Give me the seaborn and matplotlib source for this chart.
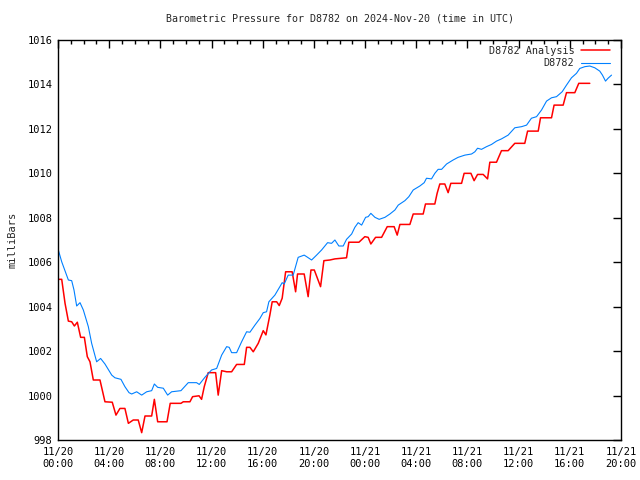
import numpy as np
import pandas as pd
import seaborn as sns
import matplotlib
matplotlib.use("Agg")
import matplotlib.pyplot as plt
import matplotlib.dates as mdates

# hours after 2024-11-20 00:00 UTC, pressure in mb
obs_hours = [0.0, 0.29, 0.81, 1.07, 1.25, 1.46, 1.72, 1.98, 2.37, 2.63, 3.02, 3.33, 3.67,
             4.2, 4.45, 4.92, 5.23, 5.55, 5.76, 6.15, 6.54, 6.93, 7.32, 7.53, 7.79, 8.23,
             8.57, 8.88, 9.61, 10.18, 10.83, 11.04, 11.48, 12.0, 12.4, 12.79, 13.18, 13.38,
             13.57, 13.96, 14.35, 14.74, 15.0, 15.39, 15.78, 16.04, 16.3, 16.48, 16.95,
             17.34, 17.52, 17.68, 17.99, 18.38, 18.77, 19.24, 19.43, 19.82, 20.21, 20.6,
             21.07, 21.38, 21.64, 21.95, 22.29, 22.55, 22.95, 23.2, 23.46, 23.73, 24.04,
             24.24, 24.45, 24.77, 25.1, 25.55, 25.94, 26.33, 26.59, 27.11, 27.42, 27.76,
             28.28, 28.62, 28.8, 29.19, 29.45, 29.71, 29.98, 30.37, 30.88, 31.27, 31.8,
             32.32, 32.58, 32.79, 33.1, 33.49, 33.88, 34.27, 34.66, 35.18, 35.7, 36.23,
             36.62, 37.0, 37.4, 37.79, 38.18, 38.57, 38.96, 39.4, 39.74, 40.13, 40.52,
             40.78, 41.17, 41.56, 41.95, 42.34, 42.55, 42.79, 42.99, 43.26]
obs_mb = [1006.6, 1006.02, 1005.2, 1005.17, 1004.75, 1004.03, 1004.18, 1003.85, 1003.1,
          1002.35, 1001.52, 1001.67, 1001.42, 1000.92, 1000.8, 1000.73, 1000.4, 1000.13,
          1000.07, 1000.17, 1000.02, 1000.17, 1000.22, 1000.52, 1000.37, 1000.33, 1000.02,
          1000.17, 1000.22, 1000.58, 1000.58, 1000.5, 1000.82, 1001.15, 1001.22, 1001.82,
          1002.2, 1002.17, 1001.93, 1001.93, 1002.42, 1002.87, 1002.85, 1003.17, 1003.47,
          1003.73, 1003.77, 1004.22, 1004.52, 1004.9, 1005.08, 1005.02, 1005.42, 1005.42,
          1006.22, 1006.32, 1006.25, 1006.1, 1006.32, 1006.55, 1006.88, 1006.85, 1007.0,
          1006.73, 1006.73, 1007.03, 1007.27, 1007.57, 1007.78, 1007.67, 1008.02, 1008.05,
          1008.2, 1008.02, 1007.93, 1008.02, 1008.17, 1008.35, 1008.57, 1008.77, 1008.95,
          1009.25, 1009.43, 1009.58, 1009.78, 1009.75, 1010.0, 1010.18, 1010.18, 1010.42,
          1010.6, 1010.72, 1010.82, 1010.87, 1010.97, 1011.13, 1011.08, 1011.2, 1011.3,
          1011.45, 1011.55, 1011.72, 1012.05, 1012.1, 1012.17, 1012.48, 1012.55, 1012.85,
          1013.25, 1013.4, 1013.45, 1013.67, 1013.97, 1014.3, 1014.5, 1014.72, 1014.8,
          1014.83, 1014.75, 1014.6, 1014.42, 1014.15, 1014.28, 1014.42]

ana_hours = [0.0, 0.29, 0.55, 0.81, 1.07, 1.28, 1.51, 1.77, 2.06, 2.29, 2.5, 2.76, 3.28,
             3.67, 4.24, 4.53, 4.84, 5.23, 5.5, 5.88, 6.27, 6.54, 6.8, 7.32, 7.53, 7.79,
             8.52, 8.77, 9.61, 9.79, 10.31, 10.52, 11.02, 11.22, 11.43, 11.74, 12.32, 12.52,
             12.79, 13.18, 13.57, 13.96, 14.56, 14.74, 15.0, 15.26, 15.65, 16.04, 16.25,
             16.56, 16.74, 17.09, 17.29, 17.52, 17.79, 18.3, 18.57, 18.72, 19.24, 19.55,
             19.77, 20.03, 20.52, 20.78, 21.25, 21.64, 22.55, 22.73, 23.52, 23.98, 24.24,
             24.45, 24.82, 25.29, 25.73, 26.27, 26.51, 26.72, 27.5, 27.76, 28.54, 28.72,
             29.45, 29.63, 29.84, 30.23, 30.49, 30.7, 31.54, 31.74, 32.27, 32.52, 32.79,
             33.23, 33.57, 33.75, 34.27, 34.66, 35.18, 35.7, 36.48, 36.7, 37.53, 37.71,
             38.57, 38.77, 39.48, 39.74, 40.39, 40.7, 41.56]
ana_mb = [1005.23, 1005.23, 1004.15, 1003.35, 1003.32, 1003.13, 1003.3, 1002.62, 1002.62,
          1001.75, 1001.52, 1000.7, 1000.7, 999.72, 999.7, 999.12, 999.42, 999.42, 998.75,
          998.9, 998.9, 998.33, 999.08, 999.08, 999.83, 998.82, 998.82, 999.65, 999.65,
          999.72, 999.72, 999.95, 999.99, 999.83, 1000.4, 1001.03, 1001.03, 1000.02,
          1001.12, 1001.07, 1001.07, 1001.4, 1001.4, 1002.17, 1002.17, 1001.97, 1002.35,
          1002.92, 1002.73, 1003.63, 1004.22, 1004.22, 1004.05, 1004.38, 1005.57, 1005.57,
          1004.67, 1005.47, 1005.47, 1004.45, 1005.65, 1005.65, 1004.9, 1006.07, 1006.1,
          1006.15, 1006.2, 1006.9, 1006.9, 1007.15, 1007.12, 1006.82, 1007.12, 1007.12,
          1007.6, 1007.6, 1007.22, 1007.7, 1007.7, 1008.17, 1008.17, 1008.62, 1008.62,
          1009.1, 1009.52, 1009.52, 1009.13, 1009.55, 1009.55, 1010.0, 1010.0, 1009.67,
          1009.95, 1009.95, 1009.75, 1010.5, 1010.5, 1011.02, 1011.02, 1011.35, 1011.35,
          1011.9, 1011.9, 1012.5, 1012.5, 1013.07, 1013.07, 1013.63, 1013.63, 1014.05,
          1014.05]

start = pd.Timestamp("2024-11-20 00:00")
end = pd.Timestamp("2024-11-21 20:00")
obs_time = start + pd.to_timedelta(obs_hours, unit="h")
ana_time = start + pd.to_timedelta(ana_hours, unit="h")

sns.set_style("white")
plt.rcParams["font.family"] = ["DejaVu Sans Mono"]
plt.rcParams["font.size"] = 7.5

fig = plt.figure(figsize=(6.4, 4.8), dpi=100)
ax = fig.add_axes([58 / 640, 40 / 480, 563 / 640, 400 / 480])

sns.lineplot(x=ana_time, y=ana_mb, color="#ff0000", linewidth=1.1, label="D8782 Analysis", ax=ax)
sns.lineplot(x=obs_time, y=obs_mb, color="#0080ff", linewidth=0.8, label="D8782", ax=ax)

ax.set_xlim(start, end)
ax.set_ylim(998, 1016)
ax.set_yticks(np.arange(998, 1017, 2))
ax.xaxis.set_major_locator(mdates.HourLocator(byhour=range(0, 24, 4)))
ax.xaxis.set_minor_locator(mdates.HourLocator())
ax.xaxis.set_major_formatter(mdates.DateFormatter("%m/%d\n%H:%M"))

for s in ax.spines.values():
    s.set_visible(True)
    s.set_color("black")
    s.set_linewidth(1.0)
ax.tick_params(which="both", direction="in", top=True, right=True, colors="black")
ax.tick_params(which="major", length=6, width=1, pad=5)
ax.tick_params(which="minor", length=3, width=1)
ax.tick_params(axis="y", which="major", pad=4)

ax.set_title("Barometric Pressure for D8782 on 2024-Nov-20 (time in UTC)", fontsize=7.2, pad=13)
ax.set_ylabel("milliBars", fontsize=7.5, labelpad=7)
ax.set_xlabel("")

leg = ax.legend(loc="upper right", bbox_to_anchor=(0.99, 1.0), frameon=False, markerfirst=False,
                handlelength=2.8, borderaxespad=0.15, handletextpad=0.7, labelspacing=0.25,
                fontsize=7.3)

fig.savefig("out.png", dpi=100)
